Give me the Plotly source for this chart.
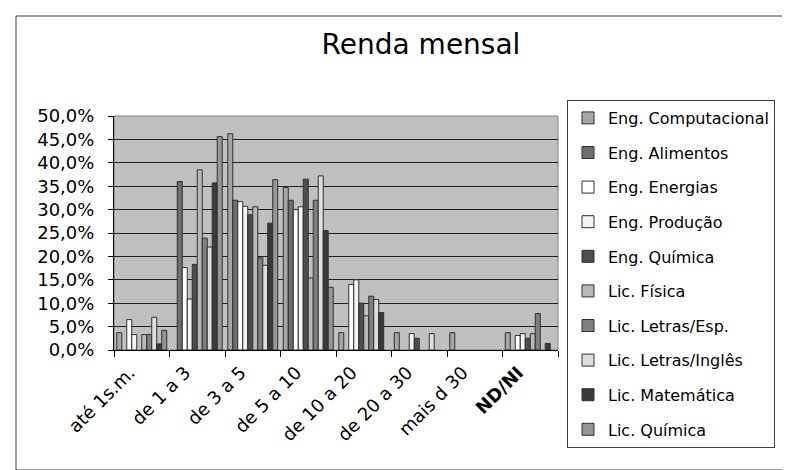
import plotly.graph_objects as go

categories = ["até 1s.m.", "de 1 a 3", "de 3 a 5", "de 5 a 10", "de 10 a 20", "de 20 a 30", "mais d 30", "<b>ND/NI</b>"]

series_names = ["Eng. Computacional", "Eng. Alimentos", "Eng. Energias", "Eng. Produção", "Eng. Química",
                "Lic. Física", "Lic. Letras/Esp.", "Lic. Letras/Inglês", "Lic. Matemática", "Lic. Química"]

eng_computacional = [3.7, None, 46.2, 34.7, 3.7, 3.7, 3.7, 3.7]
eng_alimentos     = [None, 36.0, 32.0, 32.0, None, None, None, None]
eng_energias      = [6.5, 17.6, 31.7, 30.0, 14.0, None, None, 3.1]
eng_producao      = [3.3, 10.9, 30.7, 30.6, 15.0, 3.5, None, 3.5]
eng_quimica       = [None, 18.3, 28.9, 36.5, 10.0, 2.5, None, 2.5]
lic_fisica        = [3.3, 38.5, 30.6, 15.4, 7.3, None, None, 3.5]
lic_letras_esp    = [3.3, 23.9, 19.7, 32.0, 11.5, None, None, 7.8]
lic_letras_ingles = [7.0, 22.0, 18.1, 37.2, 10.8, 3.5, None, None]
lic_matematica    = [1.3, 35.7, 27.1, 25.5, 8.0, None, None, 1.4]
lic_quimica       = [4.2, 45.6, 36.4, 13.4, None, None, None, None]

values = [eng_computacional, eng_alimentos, eng_energias, eng_producao, eng_quimica,
          lic_fisica, lic_letras_esp, lic_letras_ingles, lic_matematica, lic_quimica]

colors = ["#a6a6a6", "#6e6e6e", "#ffffff", "#f4f4f4", "#4d4d4d",
          "#b8b8b8", "#808080", "#dedede", "#3a3a3a", "#969696"]

FONT = "DejaVu Sans, Liberation Sans, Arial, sans-serif"

# plot area in pixels
PL, PR, PT, PB = 106, 550, 108, 342
W, H = 790, 470

def px_x(px):
    return (px - PL) / (PR - PL)

def px_y(py):
    return (PB - py) / (PB - PT)

fig = go.Figure()
for i, (name, vals, col) in enumerate(zip(series_names, values, colors)):
    fig.add_trace(go.Bar(
        x=categories, y=vals, name=name, legendgroup=f"g{i}",
        marker=dict(color=col, line=dict(color="#303030", width=1)),
    ))

fig.update_layout(
    width=W, height=H,
    margin=dict(l=PL, r=W - PR, t=PT, b=H - PB),
    paper_bgcolor="white",
    plot_bgcolor="#c0c0c0",
    separators=",.",
    barmode="group",
    bargap=0.1,
    bargroupgap=0,
    font=dict(family=FONT, size=16, color="black"),
    title=dict(text="Renda mensal", x=413 / W, xanchor="center",
               y=1 - 36 / H, yanchor="middle", yref="container",
               font=dict(family=FONT, size=28, color="black")),
    legend=dict(
        x=px_x(559), y=px_y(92), xanchor="left", yanchor="top",
        bgcolor="white", bordercolor="#404040", borderwidth=1,
        font=dict(family=FONT, size=16, color="black"),
        tracegroupgap=10.8, maxheight=400,
    ),
    showlegend=True,
)

fig.update_xaxes(
    type="category", tickson="boundaries", ticks="outside", ticklen=6,
    tickcolor="black", showline=True, linecolor="black", linewidth=1,
    tickangle=-45, tickfont=dict(family=FONT, size=18, color="black"),
    ticklabelshift=-12, ticklabelstandoff=4,
    showgrid=False,
)
fig.update_yaxes(
    range=[0, 50], dtick=5, tick0=0, ticks="outside", ticklen=5, tickcolor="black",
    showline=True, linecolor="black", linewidth=1,
    showgrid=True, gridcolor="#202020", gridwidth=1,
    ticksuffix="%", tickformat=".1f", ticklabelstandoff=10,
    tickfont=dict(family=FONT, size=18, color="black"),
    zeroline=False,
)

# plot area frame (gray) and whole-chart frame
fig.add_shape(type="rect", xref="paper", yref="paper", x0=0, x1=1, y0=0, y1=1,
              line=dict(color="#808080", width=1), layer="below")
fig.add_shape(type="rect", xref="paper", yref="paper",
              x0=px_x(8), x1=px_x(788), y0=px_y(462), y1=px_y(8),
              line=dict(color="#404040", width=1))

fig.write_html("out.html")
